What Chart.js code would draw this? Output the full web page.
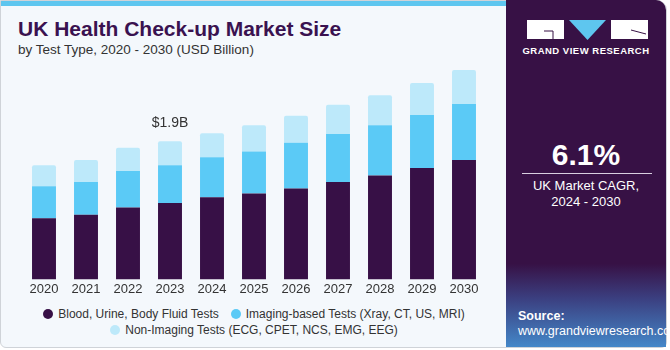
<!DOCTYPE html>
<html>
<head>
<meta charset="utf-8">
<script src="https://cdn.jsdelivr.net/npm/chart.js@4"></script>
<style>
  body { margin: 0; width: 670px; height: 350px; background: #fff; font-family: "Liberation Sans", Arial, sans-serif; overflow: hidden; }
  .card { position: absolute; left: 0; top: 0; width: 665px; height: 346px; background: #f4f8fc; border: 1px solid #cfd3d8; border-radius: 0 10px 6px 6px; overflow: hidden; }
  .strip { position: absolute; left: 0; top: 0; width: 506px; height: 5px; background: #5ec6ef; }
  .title { position: absolute; left: 17px; top: 16px; font-size: 21px; font-weight: bold; color: #3a1250; white-space: nowrap; }
  .subtitle { position: absolute; left: 17px; top: 41px; font-size: 13.5px; color: #333; }
  .chart-box { position: absolute; left: 0; top: 58px; width: 505px; height: 240px; }
  .legend { position: absolute; left: 0; top: 305px; width: 506px; font-size: 12px; color: #333; }
  .legend .row { display: flex; justify-content: center; height: 16px; line-height: 16px; }
  .legend .item { display: flex; align-items: center; margin: 0 6px; white-space: nowrap; }
  .legend .dot { width: 10px; height: 10px; border-radius: 50%; margin-right: 5px; }
  .side { position: absolute; left: 506px; top: 0; width: 160px; height: 347px; border-radius: 0 10px 0 0;
          background: linear-gradient(to bottom, #371145 0%, #371145 76%, #3b3f80 86%, #4487c8 100%); color: #fff; text-align: center; }
  .logo { position: absolute; left: 21px; top: 20px; width: 121px; height: 20px; }
  .brand { position: absolute; left: 0; width: 160px; top: 45px; font-size: 9.5px; font-weight: bold; letter-spacing: 0.5px; }
  .cagr { position: absolute; left: 0; width: 160px; top: 138px; font-size: 30px; font-weight: bold; }
  .rule { position: absolute; left: 16px; width: 130px; top: 173px; height: 1px; background: #d9cfe0; }
  .cagr-lbl { position: absolute; left: 0; width: 160px; top: 178px; font-size: 13px; line-height: 16px; }
  .src { position: absolute; left: 12px; top: 309px; font-size: 12.5px; text-align: left; line-height: 15px; }
</style>
</head>
<body>
<div class="card">
  <div class="strip"></div>
  <div class="title">UK Health Check-up Market Size</div>
  <div class="subtitle">by Test Type, 2020 - 2030 (USD Billion)</div>
  <div class="chart-box"><canvas id="marketChart"></canvas></div>
  <div class="legend" id="legend"></div>
</div>
<div class="side">
  <svg class="logo" viewBox="0 0 121 20">
    <rect x="0" y="0" width="37" height="19" fill="#fff"/>
    <path d="M17 11 H26 V19" stroke="#371145" stroke-width="1" fill="none"/>
    <polygon points="42,0 79,0 60.5,20" fill="#5ec6ef"/>
    <rect x="84" y="0" width="37" height="19" fill="#fff"/>
    <path d="M104 10 L119 14" stroke="#371145" stroke-width="1" fill="none"/>
  </svg>
  <div class="brand">GRAND VIEW RESEARCH</div>
  <div class="cagr">6.1%</div>
  <div class="rule"></div>
  <div class="cagr-lbl">UK Market CAGR,<br>2024 - 2030</div>
  <div class="src"><b>Source:</b><br>www.grandviewresearch.com</div>
</div>
<script>
const years = ["2020", "2021", "2022", "2023", "2024", "2025", "2026", "2027", "2028", "2029", "2030"];
const bloodTests = [0.84, 0.89, 0.99, 1.05, 1.13, 1.18, 1.25, 1.34, 1.43, 1.53, 1.64];
const imagingTests = [0.44, 0.45, 0.50, 0.52, 0.55, 0.58, 0.63, 0.66, 0.69, 0.73, 0.77];
const nonImagingTests = [0.29, 0.30, 0.32, 0.33, 0.33, 0.36, 0.37, 0.40, 0.41, 0.44, 0.47];
const labelIndex = 3;
const labelText = "$1.9B";

const totalLabel = {
  id: "totalLabel",
  afterDatasetsDraw(chart) {
    const ctx = chart.ctx;
    const total = bloodTests[labelIndex] + imagingTests[labelIndex] + nonImagingTests[labelIndex];
    const x = chart.scales.x.getPixelForValue(labelIndex);
    const y = chart.scales.y.getPixelForValue(total);
    ctx.save();
    ctx.font = "14px 'Liberation Sans', Arial, sans-serif";
    ctx.fillStyle = "#333";
    ctx.textAlign = "center";
    ctx.textBaseline = "bottom";
    ctx.fillText(labelText, x, y - 11);
    ctx.restore();
  }
};

const chart = new Chart(document.getElementById("marketChart").getContext("2d"), {
  type: "bar",
  data: {
    labels: years,
    datasets: [
      { label: "Blood, Urine, Body Fluid Tests", data: bloodTests, backgroundColor: "#371046" },
      { label: "Imaging-based Tests (Xray, CT, US, MRI)", data: imagingTests, backgroundColor: "#5bcaf6" },
      { label: "Non-Imaging Tests (ECG, CPET, NCS, EMG, EEG)", data: nonImagingTests, backgroundColor: "#bde9fa",
        borderRadius: { topLeft: 2, topRight: 2 } }
    ]
  },
  options: {
    responsive: true,
    maintainAspectRatio: false,
    animation: false,
    layout: { padding: { left: 22, right: 21, top: 0, bottom: 0 } },
    datasets: { bar: { barPercentage: 0.57, categoryPercentage: 1.0 } },
    plugins: {
      legend: { display: false },
      tooltip: { enabled: false }
    },
    scales: {
      x: {
        stacked: true,
        grid: { display: false, drawTicks: false },
        border: { display: false },
        ticks: { color: "#333", padding: 2, font: { size: 13, family: "'Liberation Sans', Arial, sans-serif" } }
      },
      y: {
        stacked: true,
        display: false,
        min: 0,
        max: 3.03
      }
    }
  },
  plugins: [totalLabel]
});

// html legend, two rows like the original
const legendRows = [[0, 1], [2]];
const legendEl = document.getElementById("legend");
legendRows.forEach((row) => {
  const rowEl = document.createElement("div");
  rowEl.className = "row";
  row.forEach((i) => {
    const ds = chart.data.datasets[i];
    const item = document.createElement("div");
    item.className = "item";
    item.innerHTML = `<span class="dot" style="background:${ds.backgroundColor}"></span>${ds.label}`;
    rowEl.appendChild(item);
  });
  legendEl.appendChild(rowEl);
});
</script>
</body>
</html>
